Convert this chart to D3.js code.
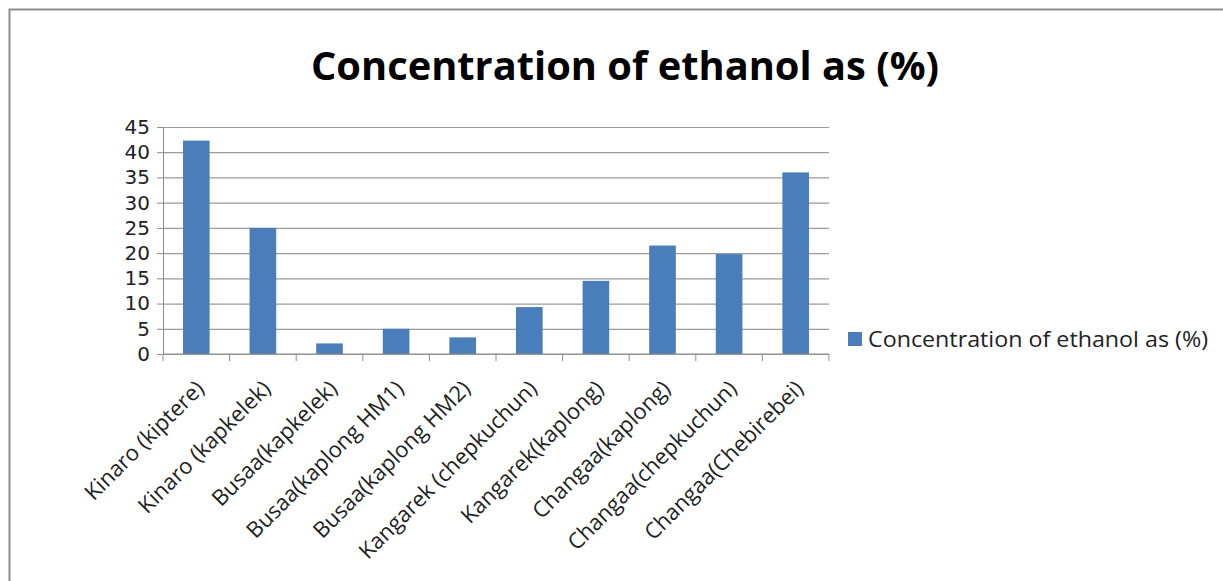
<!DOCTYPE html>
<html>
<head>
<meta charset="utf-8">
<script src="https://cdn.jsdelivr.net/npm/d3@7"></script>
<style>
  body { margin: 0; background: #fff; }
  text { font-family: "Open Sans", "DejaVu Sans", sans-serif; }
</style>
</head>
<body>
<div id="chart"></div>
<script>
var categories = ["Kinaro (kiptere)", "Kinaro (kapkelek)", "Busaa(kapkelek)", "Busaa(kaplong HM1)",
  "Busaa(kaplong HM2)", "Kangarek (chepkuchun)", "Kangarek(kaplong)", "Changaa(kaplong)",
  "Changaa(chepkuchun)", "Changaa(Chebirebei)"];
var values = [42.3, 25, 2.1, 5, 3.3, 9.3, 14.5, 21.5, 19.8, 36];
var yTicks = [0, 5, 10, 15, 20, 25, 30, 35, 40, 45];
var seriesName = "Concentration of ethanol as (%)";
var titleText = "Concentration of ethanol as (%)";

var svgWidth = 1223;
var svgHeight = 581;
var margin = { top: 127, left: 163 };
var width = 666;
var height = 227;

var svg = d3.select("#chart")
  .append("svg")
  .attr("width", svgWidth)
  .attr("height", svgHeight);

// chart frame
svg.append("path")
  .attr("d", "M9.5,581 V9.5 H1223")
  .attr("fill", "none")
  .attr("stroke", "#8c8c8c")
  .attr("stroke-width", 2);

// title
svg.append("text")
  .attr("x", 625)
  .attr("y", 80)
  .attr("text-anchor", "middle")
  .attr("font-size", 39)
  .attr("font-weight", "bold")
  .attr("textLength", 628)
  .attr("lengthAdjust", "spacingAndGlyphs")
  .attr("fill", "#000")
  .text(titleText);

var chartGroup = svg.append("g")
  .attr("transform", `translate(${margin.left}, ${margin.top})`);

var x = d3.scaleBand()
  .domain(categories)
  .range([0, width])
  .paddingInner(0.6)
  .paddingOuter(0.3);

var xBand = d3.scaleBand()
  .domain(categories)
  .range([0, width]);

var y = d3.scaleLinear()
  .domain([0, 45])
  .range([height, 0]);

// gridlines
chartGroup.append("g")
  .call(d3.axisLeft(y).tickValues(yTicks).tickSize(-width).tickFormat(""))
  .call(g => g.select(".domain").remove())
  .call(g => g.selectAll("line").attr("stroke", "#9a9a9a").attr("stroke-width", 1.2));

// y axis
var yAxis = chartGroup.append("g")
  .call(d3.axisLeft(y).tickValues(yTicks).tickSize(6).tickPadding(7));
yAxis.select(".domain").attr("stroke", "#8c8c8c");
yAxis.selectAll("line").attr("stroke", "#8c8c8c");
yAxis.selectAll("text")
  .style("font-family", "'DejaVu Sans', sans-serif")
  .style("font-size", "20px")
  .attr("fill", "#222");

// bars
chartGroup.selectAll("rect.bar")
  .data(values)
  .enter()
  .append("rect")
  .attr("class", "bar")
  .attr("x", (d, i) => x(categories[i]))
  .attr("y", d => y(d))
  .attr("width", x.bandwidth())
  .attr("height", d => height - y(d))
  .attr("fill", "#4a7ebb");

// x axis with ticks at band boundaries
var boundaries = categories.map(c => xBand(c)).concat([width]);
var xAxisG = chartGroup.append("g")
  .attr("transform", `translate(0, ${height})`);
xAxisG.append("line")
  .attr("x1", 0).attr("x2", width)
  .attr("stroke", "#8c8c8c");
xAxisG.selectAll("line.tick")
  .data(boundaries)
  .enter()
  .append("line")
  .attr("class", "tick")
  .attr("x1", d => d).attr("x2", d => d)
  .attr("y1", 0).attr("y2", 7)
  .attr("stroke", "#8c8c8c");

xAxisG.selectAll("text.cat")
  .data(categories)
  .enter()
  .append("text")
  .attr("class", "cat")
  .attr("text-anchor", "end")
  .attr("font-size", 22)
  .attr("fill", "#222")
  .attr("transform", d => `translate(${xBand(d) + xBand.bandwidth() / 2 + 9}, 36) rotate(-45)`)
  .text(d => d);

// legend
var legend = svg.append("g")
  .attr("transform", "translate(848, 332)");
legend.append("rect")
  .attr("width", 14)
  .attr("height", 14)
  .attr("fill", "#4a7ebb");
legend.append("text")
  .attr("x", 20)
  .attr("y", 15)
  .attr("font-size", 22)
  .attr("textLength", 340)
  .attr("lengthAdjust", "spacingAndGlyphs")
  .attr("fill", "#222")
  .text(seriesName);
</script>
</body>
</html>
